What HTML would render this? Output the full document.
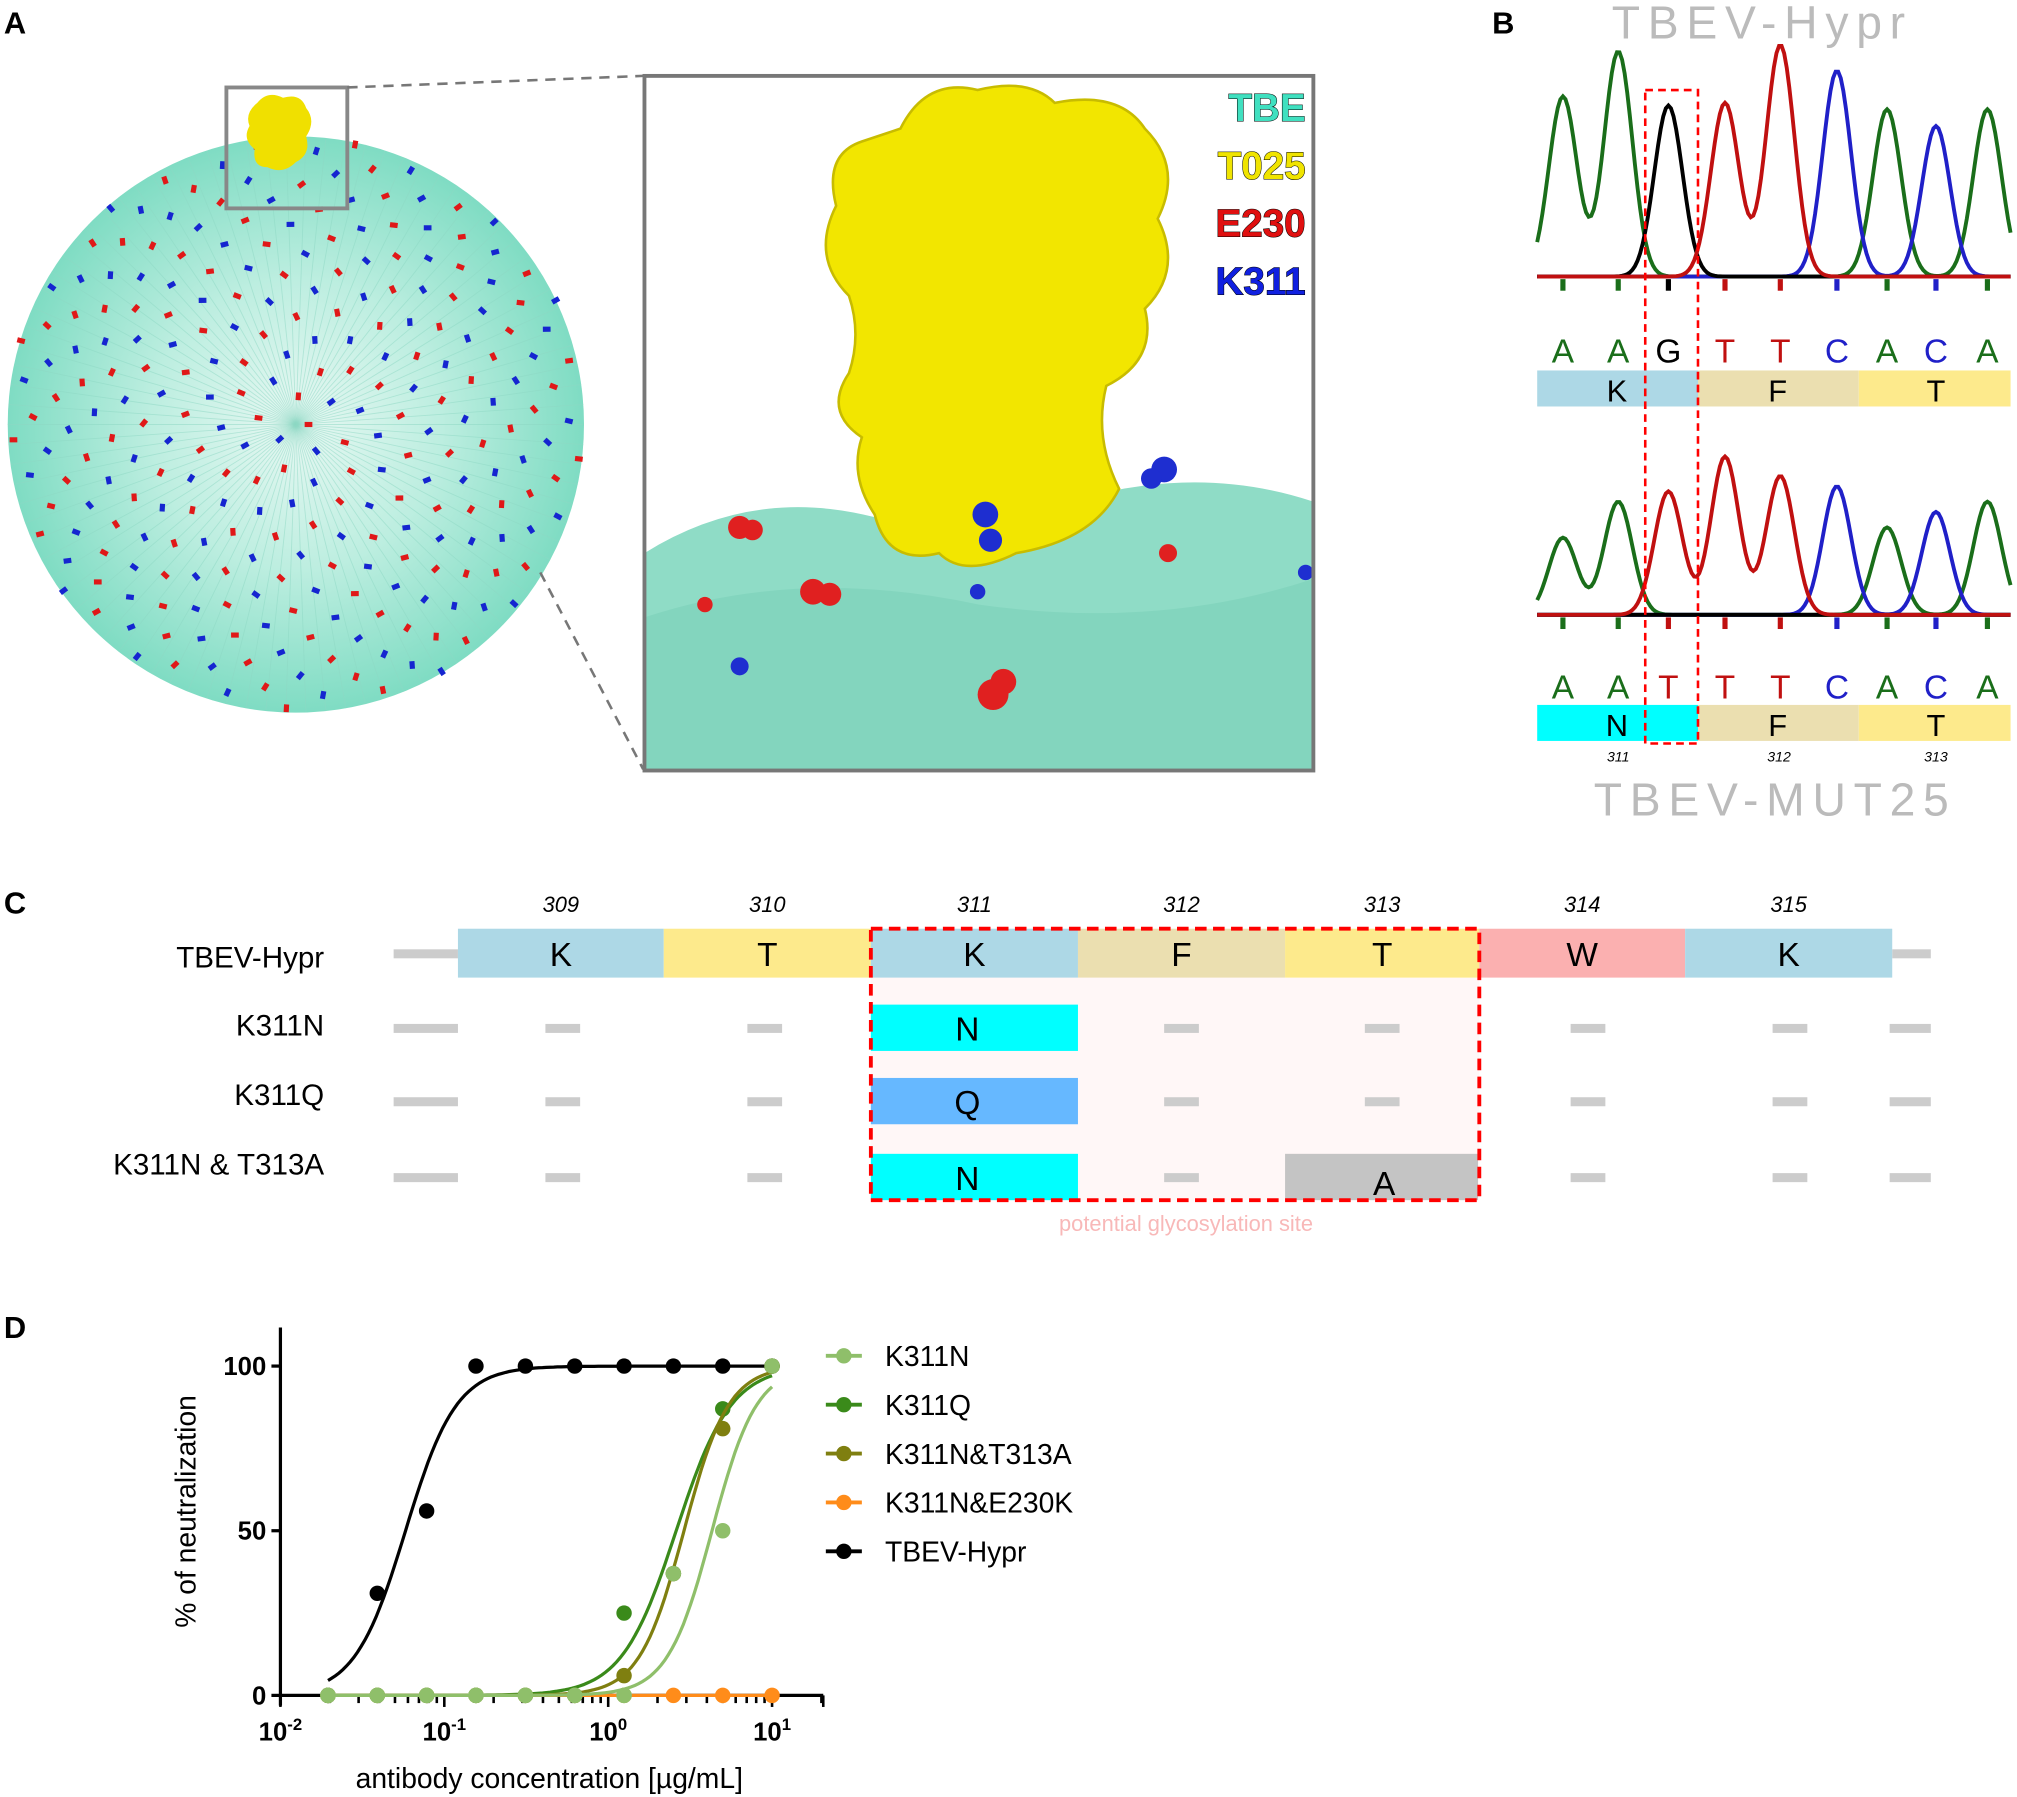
<!DOCTYPE html>
<html><head><meta charset="utf-8"><style>
html,body{margin:0;padding:0;background:#fff;}
svg{display:block;font-family:"Liberation Sans",sans-serif;}
</style></head><body>
<svg id="fig" width="2017" height="1797" viewBox="0 0 1568 1397" preserveAspectRatio="none" xmlns="http://www.w3.org/2000/svg">
<defs>
<radialGradient id="sph" cx="50%" cy="50%" r="50%">
<stop offset="0" stop-color="#e8f8f3"/><stop offset="0.5" stop-color="#bdeee0"/><stop offset="1" stop-color="#7fdcc3"/>
</radialGradient>
<clipPath id="insetclip"><rect x="501" y="59" width="520" height="540"/></clipPath>
</defs>
<!-- Panel A -->
<text x="3" y="26" font-size="24" font-weight="bold">A</text>
<g id="sphere">
<circle cx="230" cy="330" r="224" fill="url(#sph)"/>
</g>
<rect x="176" y="68" width="94" height="94" fill="none" stroke="#888" stroke-width="3"/>
<path d="M200 80 q8-10 20-4 q14-4 18 8 q8 10 0 22 q4 14-8 20 q-10 10-22 4 q-12 0-10-14 q-10-8-4-18 q-4-10 6-18z" fill="#f0e000"/>
<line x1="270" y1="68" x2="500" y2="59" stroke="#777" stroke-width="2" stroke-dasharray="8,6"/>
<line x1="420" y1="445" x2="500" y2="598" stroke="#777" stroke-width="2" stroke-dasharray="8,6"/>
<g clip-path="url(#insetclip)">
<rect x="501" y="59" width="520" height="540" fill="#fff"/>
<path d="M501 430 q80-50 170-30 q80 20 160-10 q100-30 190 0 L1021 599 L501 599z" fill="#8fdcc6"/>
<path d="M501 480 q120-40 260-10 q140 20 260-20 L1021 599 L501 599z" fill="#7fd3bc" opacity="0.8"/>
<path d="M700 100 q20-40 60-30 q40-10 60 10 q50-10 70 20 q30 30 10 70 q20 40-10 70 q10 40-30 60 q-10 40 10 80 q-20 40-80 50 q-40 20-60 0 q-40 10-50-30 q-20-30-10-60 q-30-20-10-50 q10-30 0-60 q-30-30-10-70 q-10-40 20-50z" fill="#f2e600" stroke="#c8bc00" stroke-width="2"/>
<g fill="#e02020"><circle cx="575" cy="410" r="9"/><circle cx="585" cy="412" r="8"/><circle cx="632" cy="460" r="10"/><circle cx="645" cy="462" r="9"/><circle cx="772" cy="540" r="12"/><circle cx="780" cy="530" r="10"/><circle cx="908" cy="430" r="7"/><circle cx="548" cy="470" r="6"/></g>
<g fill="#1e2ed0"><circle cx="766" cy="400" r="10"/><circle cx="770" cy="420" r="9"/><circle cx="905" cy="365" r="10"/><circle cx="895" cy="372" r="8"/><circle cx="1015" cy="445" r="6"/><circle cx="575" cy="518" r="7"/><circle cx="760" cy="460" r="6"/></g>
</g>
<rect x="501" y="59" width="520" height="540" fill="none" stroke="#777" stroke-width="3"/>
<g font-size="30" font-weight="bold" text-anchor="end" stroke="#000" stroke-width="0.8" paint-order="stroke">
<text x="1015" y="94" fill="#40e0c0">TBE</text>
<text x="1015" y="139" fill="#f0e400">T025</text>
<text x="1015" y="184" fill="#e01010">E230</text>
<text x="1015" y="229" fill="#1020e0">K311</text>
</g>
<!-- Panel B -->
<text x="1160" y="26" font-size="24" font-weight="bold">B</text>
<text x="1370" y="30" font-size="36" fill="#bbb" text-anchor="middle" letter-spacing="6">TBEV-Hypr</text>
<g id="chrom"></g>
<g font-size="24" text-anchor="middle">
<rect x="1195" y="288" width="125" height="28" fill="#add8e6"/><rect x="1320" y="288" width="125" height="28" fill="#ebdfb0"/><rect x="1445" y="288" width="118" height="28" fill="#fdea8c"/>
<text x="1257" y="312">K</text><text x="1382" y="312">F</text><text x="1505" y="312">T</text>
</g>
<g font-size="24" text-anchor="middle">
<rect x="1195" y="548" width="125" height="28" fill="#00ffff"/><rect x="1320" y="548" width="125" height="28" fill="#ebdfb0"/><rect x="1445" y="548" width="118" height="28" fill="#fdea8c"/>
<text x="1257" y="572">N</text><text x="1382" y="572">F</text><text x="1505" y="572">T</text>
<g font-size="11" font-style="italic"><text x="1258" y="592">311</text><text x="1383" y="592">312</text><text x="1505" y="592">313</text></g>
</g>
<rect x="1279" y="70" width="41" height="508" fill="none" stroke="#f00" stroke-width="2" stroke-dasharray="6,4"/>
<text x="1380" y="634" font-size="36" fill="#bbb" text-anchor="middle" letter-spacing="6">TBEV-MUT25</text>
<!-- Panel C -->
<text x="3" y="710" font-size="24" font-weight="bold">C</text>
<g id="panelC"></g>
<!-- Panel D -->
<text x="3" y="1040" font-size="24" font-weight="bold">D</text>
<g id="chart"></g>
</svg>
<script>
// ---- chart data ----
const concentrations = [0.0195,0.039,0.078,0.156,0.3125,0.625,1.25,2.5,5,10];
const seriesNames = ["K311N","K311Q","K311N&T313A","K311N&E230K","TBEV-Hypr"];
const seriesColors = ["#8fbf6a","#3a8a1a","#7f7f10","#ff8c1a","#000000"];
const valsK311N = [0,0,0,0,0,0,0,37,50,100];
const valsK311Q = [0,0,0,0,0,0,25,37,87,100];
const valsT313A = [0,0,0,0,0,0,6,37,81,100];
const valsE230K = [0,0,0,0,0,0,0,0,0,0];
const valsHypr = [0,31,56,100,100,100,100,100,100,100];
const fitEC50 = [4.3,2.6,2.9,null,0.058];
const fitHill = [3.2,2.6,3.2,null,2.8];
const yTicks = [0,50,100];
const xTickExps = [-2,-1,0,1];

const NS='http://www.w3.org/2000/svg';
function mk(tag,attrs,parent){const e=document.createElementNS(NS,tag);for(const k in attrs)e.setAttribute(k,attrs[k]);parent.appendChild(e);return e;}

// sphere decoration
(function(){
 const g=document.getElementById('sphere');
 for(let i=0;i<90;i++){const a=i*4*Math.PI/180;mk('line',{x1:230,y1:330,x2:230+224*Math.cos(a),y2:330+224*Math.sin(a),stroke:'#8ed8c4','stroke-width':0.7,opacity:0.5},g);}
 for(let i=0;i<260;i++){const a=i*2.39996;const r=224*Math.sqrt((i+0.5)/260);const x=230+r*Math.cos(a),y=330+r*Math.sin(a);
  const c=mk('rect',{x:x-3,y:y-2,width:6,height:4,fill:(i%2?'#1525d0':'#e01818')},g);c.setAttribute('transform','rotate('+(a*57)+' '+x+' '+y+')');}
})();

// chromatograms
(function(){
 const g=document.getElementById('chrom');
 const cols={A:'#1a6e1a',C:'#2020c8',G:'#000',T:'#c01010'};
 function draw(base,bases,pos,tops,baseY){
  mk('line',{x1:1195,y1:baseY,x2:1563,y2:baseY,stroke:'#000','stroke-width':3},g);
  ['A','C','G','T'].forEach(b=>{
   let d='';for(let x=1195;x<=1563;x+=2){let y=0;bases.forEach((bb,i)=>{if(bb===b){const dx=x-pos[i];y+= (baseY-tops[i])*Math.exp(-dx*dx/(2*11*11));}});d+=(x===1195?'M':'L')+x+' '+(baseY-y).toFixed(1);}
   mk('path',{d:d,fill:'none',stroke:cols[b],'stroke-width':3},g);});
  bases.forEach((b,i)=>{mk('rect',{x:pos[i]-2,y:baseY+2,width:4,height:9,fill:cols[b]},g);
   const t=mk('text',{x:pos[i],y:base,'font-size':26,'text-anchor':'middle',fill:cols[b]},g);t.textContent=b;});
 }
 const p=[1215,1258,1297,1341,1384,1428,1467,1505,1545];
 draw(282,['A','A','G','T','T','C','A','C','A'],p,[75,40,82,80,35,55,85,98,85],215);
 draw(543,['A','A','T','T','T','C','A','C','A'],p,[418,390,382,355,370,378,410,398,390],478);
})();

// panel C
(function(){
 const g=document.getElementById('panelC');
 const nums=['309','310','311','312','313','314','315'];
 const xs=[356,516,677,838,999,1150,1310,1471];
 const topAA=['K','T','K','F','T','W','K'];
 const topCol=['#add8e6','#fdea8c','#add8e6','#ebdfb0','#fdea8c','#fbb0b0','#add8e6'];
 mk('rect',{x:677,y:760,width:473,height:173,fill:'#fff7f7'},g);
 mk('rect',{x:306,y:738,width:50,height:7,fill:'#ccc'},g);
 mk('rect',{x:1471,y:738,width:30,height:7,fill:'#ccc'},g);
 let t0=mk('text',{x:252,y:752,'font-size':23,'text-anchor':'end'},g);t0.textContent='TBEV-Hypr';
 
 for(let i=0;i<7;i++){
  const cx=(xs[i]+xs[i+1])/2;
  let t=mk('text',{x:cx,y:709,'font-size':17,'font-style':'italic','text-anchor':'middle'},g);t.textContent=nums[i];
  mk('rect',{x:xs[i],y:722,width:xs[i+1]-xs[i],height:38,fill:topCol[i]},g);
  t=mk('text',{x:cx,y:751,'font-size':26,'text-anchor':'middle'},g);t.textContent=topAA[i];
 }
 const rows=[['K311N',799],['K311Q',856],['K311N & T313A',915]];
 const labY=[805,859,913];
 rows.forEach((r,ri)=>{
  const t=mk('text',{x:252,y:labY[ri],'font-size':23,'text-anchor':'end'},g);t.textContent=r[0];
  mk('rect',{x:306,y:r[1]-3,width:50,height:7,fill:'#ccc'},g);
  mk('rect',{x:1469,y:r[1]-3,width:32,height:7,fill:'#ccc'},g);
  [424,581,905,1221,1378].forEach(x=>mk('rect',{x:x,y:r[1]-3,width:27,height:7,fill:'#ccc'},g));
  if(ri<2) mk('rect',{x:1061,y:r[1]-3,width:27,height:7,fill:'#ccc'},g);
 });
 function box(y,col,l){mk('rect',{x:677,y:y,width:161,height:36,fill:col},g);const t=mk('text',{x:752,y:y+28,'font-size':26,'text-anchor':'middle'},g);t.textContent=l;}
 box(781,'#00ffff','N');box(838,'#66b8ff','Q');box(897,'#00ffff','N');
 mk('rect',{x:999,y:897,width:150,height:36,fill:'#c4c4c4'},g);
 let t=mk('text',{x:1076,y:929,'font-size':26,'text-anchor':'middle'},g);t.textContent='A';
 mk('rect',{x:677,y:722,width:473,height:211,fill:'none',stroke:'#f00','stroke-width':3,'stroke-dasharray':'9,5'},g);
 t=mk('text',{x:922,y:957,'font-size':17,'text-anchor':'middle',fill:'#f8b8b8'},g);t.textContent='potential glycosylation site';
})();

// panel D
(function(){
 const g=document.getElementById('chart');
 const X0=218,X1=640,Y0=1318;
 const xs=v=>X0+(Math.log10(v)+2)*127.4;
 const ys=v=>Y0-v*2.56;
 const ax=mk('g',{},g);
 mk('line',{x1:X0,y1:1032,x2:X0,y2:Y0+8,stroke:'#000','stroke-width':2.5},ax);
 mk('line',{x1:X0,y1:Y0,x2:X1,y2:Y0,stroke:'#000','stroke-width':2.5},ax);
 yTicks.forEach(v=>{mk('line',{x1:X0-7,y1:ys(v),x2:X0,y2:ys(v),stroke:'#000','stroke-width':2.5},ax);
  const t=mk('text',{x:X0-11,y:ys(v)+7,'font-size':20,'font-weight':'bold','text-anchor':'end'},ax);t.textContent=v;});
 for(let e=-2;e<=1;e++){for(let m=1;m<=9;m++){const v=m*Math.pow(10,e);const x=xs(v);if(x>X1)break;
  mk('line',{x1:x,y1:Y0,x2:x,y2:Y0+(m===1?9:6),stroke:'#000','stroke-width':2},ax);}}
 mk('line',{x1:X1,y1:Y0,x2:X1,y2:Y0+9,stroke:'#000','stroke-width':2},ax);
 xTickExps.forEach(e=>{const t=mk('text',{x:xs(Math.pow(10,e)),y:1353,'font-size':20,'font-weight':'bold','text-anchor':'middle'},ax);
  t.textContent='10';const s=mk('tspan',{dy:-8,'font-size':13},t);s.textContent=String(e);});
 let t=mk('text',{x:427,y:1390,'font-size':22,'text-anchor':'middle'},ax);t.textContent='antibody concentration [µg/mL]';
 
 t=mk('text',{x:0,y:0,'font-size':22,'text-anchor':'middle',transform:'translate(152,1175) rotate(-90)'},ax);t.textContent='% of neutralization';
 
 const allVals=[valsK311N,valsK311Q,valsT313A,valsE230K,valsHypr];
 const order=[3,4,1,2,0];
 order.forEach(si=>{
  const sg=mk('g',{},g);
  
  
  const col=seriesColors[si];
  let d='';
  if(fitEC50[si]===null){d='M'+xs(concentrations[0])+' '+ys(0)+'L'+xs(concentrations[9])+' '+ys(0);}
  else{for(let k=0;k<=120;k++){const lv=Math.log10(concentrations[0])+k*(Math.log10(10)-Math.log10(concentrations[0]))/120;const v=Math.pow(10,lv);
   const y=100/(1+Math.pow(fitEC50[si]/v,fitHill[si]));d+=(k?'L':'M')+xs(v).toFixed(1)+' '+ys(y).toFixed(1);}}
  mk('path',{d:d,fill:'none',stroke:col,'stroke-width':2.5},sg);
  allVals[si].forEach((v,i)=>{const c=mk('circle',{cx:xs(concentrations[i]),cy:ys(v),r:6,fill:col},sg);
   });
 });
 valsK311N.forEach((v,i)=>{if(v===0)mk('circle',{cx:xs(concentrations[i]),cy:ys(v),r:6,fill:seriesColors[0]},g);});
 const lg=mk('g',{},g);
 seriesNames.forEach((n,i)=>{const y=1054+i*38;
  const e=mk('g',{},lg);
  mk('line',{x1:642,y1:y,x2:670,y2:y,stroke:seriesColors[i],'stroke-width':3},e);
  mk('circle',{cx:656,cy:y,r:6,fill:seriesColors[i]},e);
  const tt=mk('text',{x:688,y:y+8,'font-size':22},e);tt.textContent=n;});
})();
</script>
</body></html>
